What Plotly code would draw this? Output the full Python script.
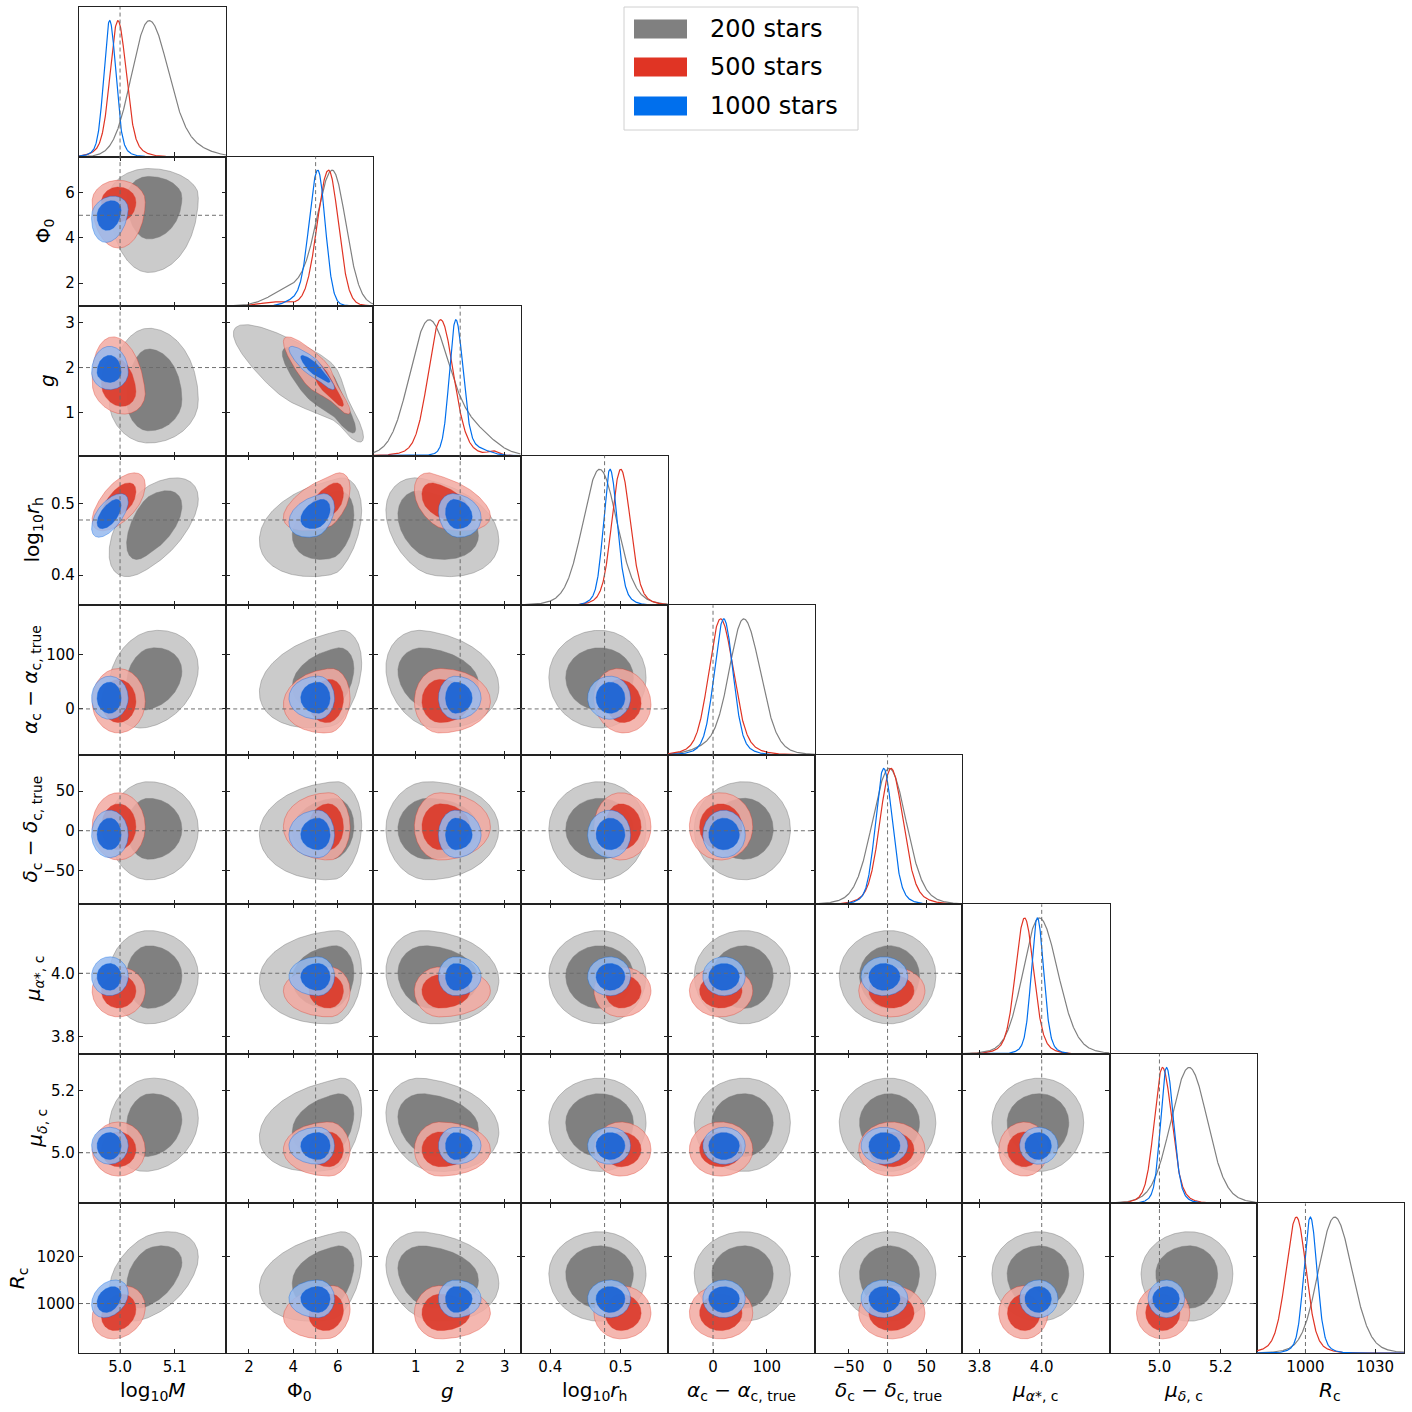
import numpy as np
import plotly.graph_objects as go

W = H = 1412
ML, MR, MT, MB = 79, 8, 7, 59
N = 9

labels = ["log<sub>10</sub><i>M</i>", "Φ<sub>0</sub>", "<i>g</i>", "log<sub>10</sub><i>r</i><sub>h</sub>",
          "<i>α</i><sub>c</sub> − <i>α</i><sub>c, true</sub>", "<i>δ</i><sub>c</sub> − <i>δ</i><sub>c, true</sub>",
          "<i>μ</i><sub><i>α</i>*, c</sub>", "<i>μ</i><sub><i>δ</i>, c</sub>", "<i>R</i><sub>c</sub>"]
truth = [5.0, 5.0, 2.0, 0.4771, 0.0, 0.0, 4.0, 5.0, 1000.0]
ranges = [[4.925, 5.194], [0.98, 7.6], [0.05, 3.36], [0.358, 0.567], [-84, 190],
          [-93, 96], [3.745, 4.218], [4.837, 5.318], [979, 1042.5]]
xtick_vals = [[5.0, 5.1], [2, 4, 6], [1, 2, 3], [0.4, 0.5], [0, 100], [-50, 0, 50], [3.8, 4.0], [5.0, 5.2], [1000, 1030]]
xtick_text = [["5.0", "5.1"], ["2", "4", "6"], ["1", "2", "3"], ["0.4", "0.5"], ["0", "100"], ["−50", "0", "50"],
              ["3.8", "4.0"], ["5.0", "5.2"], ["1000", "1030"]]
ytick_vals = [[5.0, 5.1], [2, 4, 6], [1, 2, 3], [0.4, 0.5], [0, 100], [-50, 0, 50], [3.8, 4.0], [5.0, 5.2], [1000, 1020]]
ytick_text = [["5.0", "5.1"], ["2", "4", "6"], ["1", "2", "3"], ["0.4", "0.5"], ["0", "100"], ["−50", "0", "50"],
              ["3.8", "4.0"], ["5.0", "5.2"], ["1000", "1020"]]

series = ["200 stars", "500 stars", "1000 stars"]
colors = ["#808080", "#E03424", "#006FED"]

# ---- 1D marginals: peak, left/right core widths, a tail bump, and broad wings ----
peak_200 = [5.053, 5.76, 1.29, 0.470, 57.6, 2.2, 3.992, 5.097, 1012.6]
sigl_200 = [0.032, 0.69, 0.42, 0.023, 26, 21, 0.051, 0.058, 6.8]
sigr_200 = [0.035, 0.60, 0.45, 0.024, 30, 21, 0.058, 0.058, 7.3]
tmu_200 = [5.13, 3.9, 2.3, 0.47, 0, 0, 4.0, 5.1, 1012]
tsig_200 = [0.035, 0.9, 0.45, 0.03, 35, 30, 0.07, 0.07, 8]
tamp_200 = [0.06, 0.13, 0.18, 0, 0.06, 0, 0, 0, 0]
wamp_200 = [0, 0.03, 0.04, 0.1, 0.08, 0.1, 0.08, 0.08, 0.08]
wfac_200 = [1.8, 1.8, 1.8, 1.8, 1.8, 1.8, 1.8, 1.8, 1.8]

peak_500 = [4.996, 5.58, 1.56, 0.500, 14, 4.3, 3.945, 5.010, 996.1]
sigl_500 = [0.0135, 0.50, 0.27, 0.0122, 21, 13.5, 0.028, 0.026, 4.3]
sigr_500 = [0.0145, 0.44, 0.28, 0.0132, 23, 15, 0.028, 0.029, 4.0]
tmu_500 = [4.995, 3.2, 2.75, 0.5, 0, 0, 3.95, 5.0, 996]
tsig_500 = [0.025, 0.7, 0.12, 0.02, 30, 20, 0.04, 0.04, 5]
tamp_500 = [0, 0.03, 0.03, 0, 0, 0, 0, 0, 0]
wamp_500 = [0.15, 0.03, 0.08, 0.12, 0.12, 0.12, 0.12, 0.12, 0.12]
wfac_500 = [2.0, 2.0, 2.0, 2.0, 2.0, 2.0, 2.0, 2.0, 2.0]

peak_1000 = [4.981, 5.10, 1.90, 0.4848, 20, -5, 3.986, 5.023, 1002.1]
sigl_1000 = [0.0102, 0.38, 0.14, 0.0088, 17, 10, 0.0185, 0.0185, 2.65]
sigr_1000 = [0.0108, 0.33, 0.16, 0.0098, 16.5, 10.6, 0.0195, 0.022, 2.75]
tmu_1000 = [4.98, 4.2, 2.35, 0.48, 0, 0, 4.0, 5.0, 1000]
tsig_1000 = [0.02, 0.5, 0.3, 0.02, 20, 15, 0.03, 0.03, 4]
tamp_1000 = [0, 0.05, 0.05, 0, 0, 0, 0, 0, 0]
wamp_1000 = [0.12, 0.03, 0.06, 0.15, 0.12, 0.12, 0.12, 0.12, 0.12]
wfac_1000 = [2.0, 2.0, 2.0, 2.0, 2.0, 2.0, 2.0, 2.0, 2.0]

# ---- 2D contour extents (centre, 68% and 95% lower/upper limits) ----
c2d_200 = [5.053, 5.76, 1.30, 0.470, 58, 2, 3.992, 5.097, 1012.6]
lo68_200 = [5.012, 3.95, 0.60, 0.422, -2, -36, 3.889, 4.988, 998]
hi68_200 = [5.113, 6.72, 2.41, 0.518, 112, 41, 4.087, 5.19, 1024.5]
lo95_200 = [4.980, 2.47, 0.33, 0.398, -35, -62, 3.84, 4.94, 992.5]
hi95_200 = [5.143, 7.07, 2.87, 0.536, 144, 62, 4.135, 5.24, 1030.5]

c2d_500 = [4.997, 5.58, 1.56, 0.500, 14, 5, 3.945, 5.010, 996]
lo68_500 = [4.966, 4.70, 1.14, 0.478, -25, -24, 3.89, 4.955, 988.5]
hi68_500 = [5.029, 6.25, 2.22, 0.529, 54, 34, 3.995, 5.067, 1004]
lo95_500 = [4.949, 3.55, 0.97, 0.462, -44, -37, 3.862, 4.925, 985]
hi95_500 = [5.046, 6.55, 2.68, 0.543, 74, 48, 4.02, 5.099, 1007.6]

c2d_1000 = [4.981, 5.10, 1.90, 0.485, 20, -5, 3.99, 5.023, 1002.1]
lo68_1000 = [4.958, 4.33, 1.67, 0.465, -8, -24, 3.946, 4.978, 996.2]
hi68_1000 = [5.002, 5.65, 2.27, 0.506, 49, 16, 4.031, 5.065, 1007.2]
lo95_1000 = [4.948, 3.80, 1.51, 0.453, -19, -34, 3.929, 4.963, 994]
hi95_1000 = [5.015, 5.85, 2.47, 0.514, 60, 26, 4.052, 5.082, 1010]

# the 200-star Phi0-g band reaches further along its degeneracy:
# [Phi0 lo95, Phi0 hi95, g lo95, g hi95, Phi0 lo68, Phi0 hi68, g lo68, g hi68]
band_200_phi0_g = [1.3, 7.15, 0.35, 2.95, 3.5, 6.8, 0.55, 2.45]

# correlations (row param, column param): value
corr_200 = {(3, 0): 0.55, (4, 0): 0.2, (7, 0): 0.1, (8, 0): 0.4, (2, 1): -0.88, (3, 1): 0.3, (4, 1): 0.3,
            (5, 1): 0.1, (6, 1): 0.1, (7, 1): 0.3, (8, 1): 0.3, (3, 2): -0.3, (4, 2): -0.2, (6, 2): -0.1,
            (7, 2): -0.2, (8, 2): -0.2}
corr_500 = {(2, 0): -0.2, (3, 0): 0.6, (8, 0): 0.2, (2, 1): -0.9, (3, 1): 0.5, (4, 1): 0.1, (8, 1): 0.15,
            (3, 2): -0.45, (4, 3): -0.1}
corr_1000 = {(1, 0): 0.2, (3, 0): 0.6, (8, 0): 0.3, (2, 1): -0.9, (3, 1): 0.35, (3, 2): -0.15}

one_d = [
    (peak_200, sigl_200, sigr_200, tmu_200, tsig_200, tamp_200, wamp_200, wfac_200),
    (peak_500, sigl_500, sigr_500, tmu_500, tsig_500, tamp_500, wamp_500, wfac_500),
    (peak_1000, sigl_1000, sigr_1000, tmu_1000, tsig_1000, tamp_1000, wamp_1000, wfac_1000),
]
two_d = [
    (c2d_200, lo68_200, hi68_200, lo95_200, hi95_200, corr_200),
    (c2d_500, lo68_500, hi68_500, lo95_500, hi95_500, corr_500),
    (c2d_1000, lo68_1000, hi68_1000, lo95_1000, hi95_1000, corr_1000),
]

fill_outer = ["rgba(203,203,203,1)", "rgba(242,170,162,0.85)", "rgba(150,186,238,0.85)"]
fill_inner = ["rgba(128,128,128,1)", "rgba(218,52,36,0.88)", "rgba(22,96,212,0.9)"]
edge_col = ["rgba(120,120,120,0.55)", "rgba(224,52,36,0.45)", "rgba(0,100,230,0.45)"]


def density_1d(x, p, sl, sr, tm, ts, ta, wa, wf):
    sc = np.where(x < p, sl, sr)
    z = (x - p) / sc
    d = np.exp(-0.5 * z ** 2) + ta * np.exp(-0.5 * ((x - tm) / ts) ** 2) + wa * np.exp(-0.5 * (z / wf) ** 2)
    return d / d.max()


def smap(u, c, lo, hi):
    sl = c - lo
    sr = hi - c
    s = 0.5 * (sl + sr) + 0.5 * (sr - sl) * np.tanh(u / 0.25)
    return c + u * s


def contour(c, lo, hi, cy, loy, hiy, rho):
    t = np.linspace(0, 2 * np.pi, 240)
    u = np.cos(t)
    v = rho * np.cos(t) + np.sqrt(1 - rho ** 2) * np.sin(t)
    return smap(u, c, lo, hi), smap(v, cy, loy, hiy)


fig = go.Figure()
layout = {}
shapes = []
annotations = []
FONT = "DejaVu Sans"

axis_common = dict(showline=True, linecolor="#222222", linewidth=1.2, mirror="ticks", ticks="inside",
                   ticklen=4, tickwidth=1, tickcolor="#222222", showgrid=False, zeroline=False,
                   tickfont=dict(family=FONT, size=15, color="black"))

dash_style = dict(color="rgba(105,105,105,0.95)", width=1, dash="4px,3px")

k = 0
for i in range(N):
    for j in range(i + 1):
        k += 1
        xa = "x" if k == 1 else f"x{k}"
        ya = "y" if k == 1 else f"y{k}"
        xkey = "xaxis" if k == 1 else f"xaxis{k}"
        ykey = "yaxis" if k == 1 else f"yaxis{k}"
        layout[xkey] = dict(axis_common, domain=[j / N, (j + 1) / N], anchor=ya, range=ranges[j],
                            tickvals=xtick_vals[j], ticktext=xtick_text[j], showticklabels=(i == N - 1))
        if i == j:
            layout[xkey]["mirror"] = True
            layout[ykey] = dict(showline=True, linecolor="#222222", linewidth=1.2, mirror=True, ticks="",
                                showticklabels=False, showgrid=False, zeroline=False,
                                domain=[1 - (i + 1) / N, 1 - i / N], anchor=xa, range=[0, 1.1])
            xs = np.linspace(ranges[j][0], ranges[j][1], 600)
            for s in range(3):
                p, sl, sr, tm, ts, ta, wa, wf = one_d[s]
                d = density_1d(xs, p[j], sl[j], sr[j], tm[j], ts[j], ta[j], wa[j], wf[j])
                fig.add_trace(go.Scatter(x=xs, y=d, mode="lines", line=dict(color=colors[s], width=1.2),
                                         xaxis=xa, yaxis=ya, showlegend=False, hoverinfo="skip"))
            shapes.append(dict(type="line", xref=xa, yref=f"{ya} domain", x0=truth[j], x1=truth[j],
                               y0=0, y1=1, line=dash_style))
        else:
            layout[ykey] = dict(axis_common, domain=[1 - (i + 1) / N, 1 - i / N], anchor=xa, range=ranges[i],
                                tickvals=ytick_vals[i], ticktext=ytick_text[i], showticklabels=(j == 0))
            for s in range(3):
                c, lo68, hi68, lo95, hi95, corr = two_d[s]
                rho = corr.get((i, j), 0.0)
                levels = [(lo95[j], hi95[j], lo95[i], hi95[i], fill_outer[s]),
                          (lo68[j], hi68[j], lo68[i], hi68[i], fill_inner[s])]
                if s == 0 and (i, j) == (2, 1):
                    b = band_200_phi0_g
                    levels = [(b[0], b[1], b[2], b[3], fill_outer[s]), (b[4], b[5], b[6], b[7], fill_inner[s])]
                for (lx, hx, ly, hy, fc) in levels:
                    cx, cy = contour(c[j], lx, hx, c[i], ly, hy, rho)
                    fig.add_trace(go.Scatter(x=cx, y=cy, mode="lines", fill="toself", fillcolor=fc,
                                             line=dict(color=edge_col[s], width=0.8),
                                             xaxis=xa, yaxis=ya, showlegend=False, hoverinfo="skip"))
            shapes.append(dict(type="line", xref=xa, yref=f"{ya} domain", x0=truth[j], x1=truth[j],
                               y0=0, y1=1, line=dash_style))
            shapes.append(dict(type="line", xref=f"{xa} domain", yref=ya, x0=0, x1=1,
                               y0=truth[i], y1=truth[i], line=dash_style))

PW = W - ML - MR
PH = H - MT - MB


def px_x(p):
    return (p - ML) / PW


def px_y(p):
    return (H - MB - p) / PH


# axis titles
for j in range(N):
    annotations.append(dict(text=labels[j], xref="paper", yref="paper", x=(j + 0.5) / N, y=px_y(1391),
                            xanchor="center", yanchor="middle", showarrow=False,
                            font=dict(family=FONT, size=20, color="black")))
ylab_x = [0, 44, 47, 33, 31, 31, 34, 36, 18]
for i in range(1, N):
    annotations.append(dict(text=labels[i], xref="paper", yref="paper", x=px_x(ylab_x[i]),
                            y=1 - (i + 0.5) / N, xanchor="center", yanchor="middle", textangle=-90,
                            showarrow=False, font=dict(family=FONT, size=20, color="black")))

# legend box
shapes.append(dict(type="rect", xref="paper", yref="paper", x0=px_x(624), x1=px_x(858), y0=px_y(130),
                   y1=px_y(7), line=dict(color="#d0d0d0", width=1), fillcolor="rgba(255,255,255,0.85)",
                   layer="above"))
leg_rows = [29, 67, 106]
for s in range(3):
    yc = leg_rows[s]
    shapes.append(dict(type="rect", xref="paper", yref="paper", x0=px_x(634), x1=px_x(687),
                       y0=px_y(yc + 9.5), y1=px_y(yc - 9.5), line=dict(width=0), fillcolor=colors[s],
                       layer="above"))
    annotations.append(dict(text=series[s], xref="paper", yref="paper", x=px_x(708), y=px_y(yc),
                            xanchor="left", yanchor="middle", showarrow=False,
                            font=dict(family=FONT, size=24, color="black")))

fig.update_layout(**layout)
fig.update_layout(width=W, height=H, margin=dict(l=ML, r=MR, t=MT, b=MB), paper_bgcolor="white",
                  plot_bgcolor="white", shapes=shapes, annotations=annotations, showlegend=False)
fig.write_html("out.html", config={"displayModeBar": False},
               post_script="document.body.style.margin='0px';")
